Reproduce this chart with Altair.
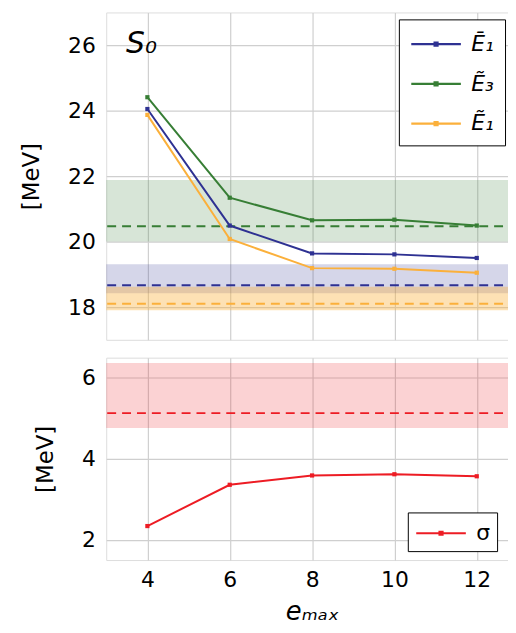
import altair as alt
import pandas as pd

emax = [4, 6, 8, 10, 12]
E1bar = [24.05, 20.49, 19.64, 19.61, 19.50]
E3tilde = [24.41, 21.34, 20.65, 20.67, 20.49]
E1tilde = [23.87, 20.08, 19.19, 19.17, 19.05]
sigma = [2.34, 3.36, 3.59, 3.62, 3.57]

series_names = ["Ē₁", "Ẽ₃", "Ẽ₁"]
series_colors = ["#2e3192", "#377e35", "#fbb03b"]

# extrapolated bands (center, low, high)
band_center = [18.67, 20.47, 18.10]
band_lo = [18.42, 20.00, 17.90]
band_hi = [19.31, 21.88, 18.62]
band_opacity = [0.2, 0.2, 0.38]

sigma_center = 5.13
sigma_lo = 4.76
sigma_hi = 6.37
sigma_color = "#ed1c24"

panel_label = "S₀"

FONT = "DejaVu Sans"

rows = []
for name, vals in zip(series_names, [E1bar, E3tilde, E1tilde]):
    for x, v in zip(emax, vals):
        rows.append({"emax": x, "E": v, "series": name})
df_top = pd.DataFrame(rows)

df_bands = pd.DataFrame({
    "series": series_names, "c": band_center, "lo": band_lo, "hi": band_hi,
    "col": series_colors, "op": band_opacity,
})
df_sig = pd.DataFrame({"emax": emax, "E": sigma, "series": ["σ"] * len(emax)})
df_sig_band = pd.DataFrame({"c": [sigma_center], "lo": [sigma_lo], "hi": [sigma_hi], "col": [sigma_color]})
df_label = pd.DataFrame({"t": [panel_label]})

W = 415
H1 = 330
H2 = 204

legend_path = "M-1,0L3,0M0.88,-0.12L1.12,-0.12L1.12,0.12L0.88,0.12Z"

xscale = alt.Scale(domain=[3, 13], nice=False)
yscale_top = alt.Scale(domain=[17, 27], nice=False, zero=False)
yscale_bot = alt.Scale(domain=[1.5, 6.5], nice=False, zero=False)

base_axis = dict(grid=True, gridColor="#cfcfcf", gridWidth=1.2, domain=False, ticks=False,
                 labelFont=FONT, labelFontSize=22, labelColor="black")
title_axis = dict(titleFont=FONT, titleFontSize=23, titleFontWeight="normal", titleColor="black")

x_top = alt.X("emax:Q", scale=xscale, axis=alt.Axis(values=emax, labels=False, title=None, **base_axis))
y_top = alt.Y("E:Q", scale=yscale_top,
              axis=alt.Axis(values=[18, 20, 22, 24, 26], title="[MeV]", labelPadding=11, titlePadding=24,
                            **base_axis, **title_axis))

color_top = alt.Color("series:N",
                      scale=alt.Scale(domain=series_names, range=series_colors),
                      legend=alt.Legend(title=None, orient="none", legendX=295, legendY=7,
                                        symbolType=legend_path, symbolSize=625, symbolStrokeWidth=2.2,
                                        symbolOpacity=1,
                                        labelFont=FONT, labelFontSize=22, labelFontStyle="italic",
                                        labelOffset=34, rowPadding=15, padding=11,
                                        strokeColor="black", fillColor="white", labelColor="black"))

lines = alt.Chart(df_top).mark_line(strokeWidth=2, point=alt.OverlayMarkDef(shape="square", size=18, filled=True)).encode(
    x=x_top, y=y_top, color=color_top, order=alt.Order("emax:Q"),
)
bands = alt.Chart(df_bands).mark_rect().encode(
    y=alt.Y("lo:Q", scale=yscale_top), y2="hi:Q",
    color=alt.Color("col:N", scale=None),
    opacity=alt.Opacity("op:Q", scale=None),
)
band_lines = alt.Chart(df_bands).mark_rule(strokeDash=[9, 6], strokeWidth=2).encode(
    y=alt.Y("c:Q", scale=yscale_top), color=alt.Color("col:N", scale=None),
)
label = alt.Chart(df_label).mark_text(font=FONT, fontSize=30, fontStyle="italic", align="left",
                                      baseline="alphabetic", color="black").encode(
    text="t:N", x=alt.value(20), y=alt.value(41),
)

top = alt.layer(bands, band_lines, lines, label).properties(width=W, height=H1)

x_bot = alt.X("emax:Q", scale=xscale,
              axis=alt.Axis(values=emax, title="eₘₐₓ", titleFontStyle="italic", labelPadding=10,
                            titlePadding=8, titleFont=FONT, titleFontSize=26, titleFontWeight="normal",
                            titleColor="black", **base_axis))
y_bot = alt.Y("E:Q", scale=yscale_bot,
              axis=alt.Axis(values=[2, 4, 6], title="[MeV]", labelPadding=11, titlePadding=24,
                            **base_axis, **title_axis))

sig = alt.Chart(df_sig).mark_line(strokeWidth=2, point=alt.OverlayMarkDef(shape="square", size=18, filled=True)).encode(
    x=x_bot, y=y_bot,
    color=alt.Color("series:N", scale=alt.Scale(domain=["σ"], range=[sigma_color]),
                    legend=alt.Legend(title=None, orient="none", legendX=304, legendY=156,
                                      symbolType=legend_path, symbolSize=625, symbolStrokeWidth=2.2,
                                      symbolOpacity=1,
                                      labelFont=FONT, labelFontSize=22, labelOffset=34, padding=7,
                                      strokeColor="black", fillColor="white", labelColor="black")),
)
sig_band = alt.Chart(df_sig_band).mark_rect(fillOpacity=0.2).encode(
    y=alt.Y("lo:Q", scale=yscale_bot), y2="hi:Q", color=alt.Color("col:N", scale=None),
)
sig_line = alt.Chart(df_sig_band).mark_rule(strokeDash=[9, 6], strokeWidth=2).encode(
    y=alt.Y("c:Q", scale=yscale_bot), color=alt.Color("col:N", scale=None),
)
bottom = alt.layer(sig, sig_band, sig_line).properties(width=W, height=H2)

chart = alt.vconcat(
    top, bottom, spacing=16,
    padding={"left": 12, "top": 1, "right": -12, "bottom": -2},
).resolve_scale(color="independent").configure_view(
    stroke="black", strokeWidth=2.2,
).configure(background="white")

chart.save("out.html", embed_options={"renderer": "svg", "actions": False})
